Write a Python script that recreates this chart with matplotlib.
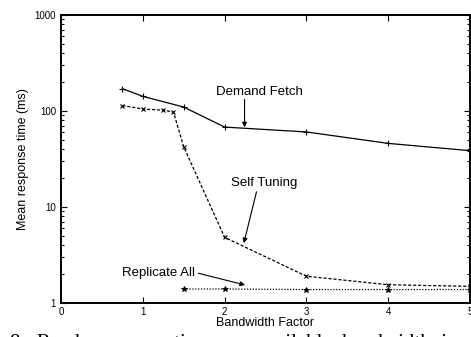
import numpy as np
import matplotlib.pyplot as plt
from matplotlib.ticker import LogLocator, NullFormatter, FixedLocator

plt.rcParams['font.family'] = ['Liberation Sans', 'DejaVu Sans']

# data
bw_demand = [0.75, 1.0, 1.5, 2.0, 3.0, 4.0, 5.0]
rt_demand = [171, 142, 110, 68, 60.5, 46, 38.6]

bw_tuning = [0.75, 1.0, 1.25, 1.375, 1.5, 2.0, 3.0, 4.0, 5.0]
rt_tuning = [114, 105, 102, 97.7, 42.4, 4.83, 1.90, 1.55, 1.49]

bw_replicate = [1.5, 2.0, 3.0, 4.0, 5.0]
rt_replicate = [1.40, 1.40, 1.38, 1.38, 1.38]

xticks = [0, 1, 2, 3, 4, 5]
yticks = [1, 10, 100, 1000]

fig = plt.figure(figsize=(4.71, 3.37), dpi=100)
ax = fig.add_axes([61/471, 1-303/337, 409/471, 288/337])

ax.plot(bw_demand, rt_demand, color='black', lw=0.9, ls='-',
        marker='+', ms=4, mew=0.8)
ax.plot(bw_tuning, rt_tuning, color='black', lw=0.9, ls=(0, (2.5, 1.5)),
        marker='x', ms=3.5, mew=0.8)
ax.plot(bw_replicate, rt_replicate, color='black', lw=0.9, ls=(0, (1, 1.3)),
        marker='*', ms=4, mew=0.6)

ax.set_yscale('log')
ax.set_xlim(0, 5)
ax.set_ylim(1, 1000)
ax.xaxis.set_major_locator(FixedLocator(xticks))
ax.yaxis.set_major_locator(FixedLocator(yticks))
ax.set_xticklabels([str(t) for t in xticks])
ax.set_yticklabels([str(t) for t in yticks])
ax.yaxis.set_minor_locator(LogLocator(base=10, subs=np.arange(2, 10)))
ax.yaxis.set_minor_formatter(NullFormatter())

ax.tick_params(which='both', direction='in', top=True, right=True,
               labelsize=7, width=0.8)
ax.tick_params(which='major', length=4)
ax.tick_params(which='minor', length=2)
ax.tick_params(axis='x', pad=3)
for s in ax.spines.values():
    s.set_linewidth(1.4)

ax.set_xlabel('Bandwidth Factor', fontsize=9, labelpad=0)
ax.set_ylabel('Mean response time (ms)', fontsize=9, labelpad=4)

# labels with arrows pointing at the curves
arrow = dict(arrowstyle='-|>', color='black', lw=0.8, mutation_scale=7,
             shrinkA=0, shrinkB=0)
ax.text(2.42, 159, 'Demand Fetch', fontsize=9.5, ha='center', va='center')
ax.annotate('', xy=(2.244, 67.5), xytext=(2.244, 132), arrowprops=arrow)
ax.text(2.49, 17.7, 'Self Tuning', fontsize=9.5, ha='center', va='center')
ax.annotate('', xy=(2.235, 4.2), xytext=(2.39, 14.4), arrowprops=arrow)
ax.text(1.19, 2.04, 'Replicate All', fontsize=9.5, ha='center', va='center')
ax.annotate('', xy=(2.25, 1.54), xytext=(1.68, 2.04), arrowprops=arrow)

fig.text(10/471, 1-334/337, '8:  Read  response  time  vs.  available  bandwidth  in',
         family='Liberation Serif', fontsize=15, va='top', ha='left')

fig.savefig('out.png', dpi=100)
